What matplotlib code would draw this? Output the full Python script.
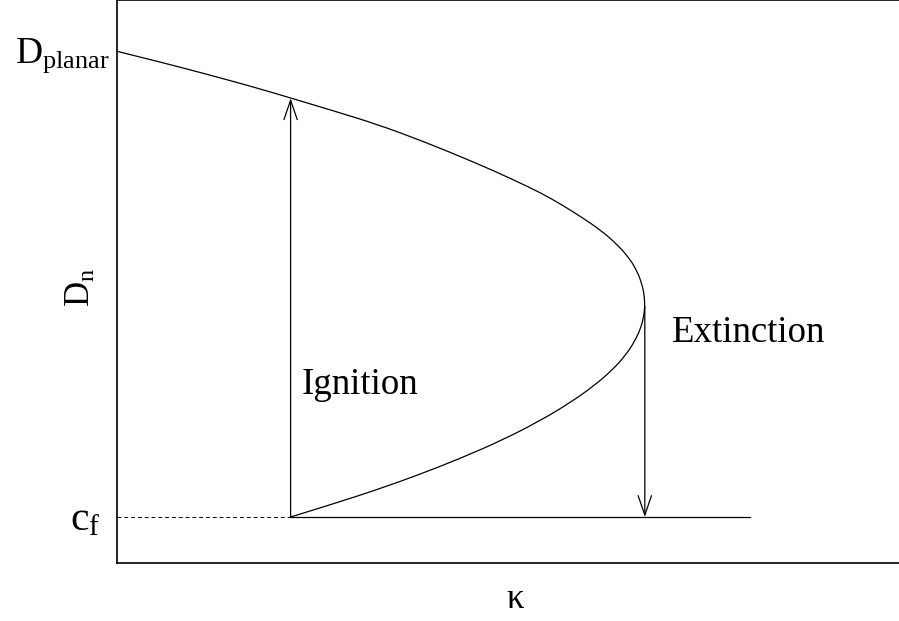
import matplotlib
matplotlib.use("Agg")
import matplotlib.pyplot as plt
import matplotlib.transforms as mtransforms
from matplotlib.patches import FancyArrowPatch, PathPatch
from matplotlib.path import Path

plt.rcParams["font.family"] = ["Liberation Serif", "DejaVu Serif"]
plt.rcParams["mathtext.fontset"] = "custom"
plt.rcParams["mathtext.rm"] = "Liberation Serif"
plt.rcParams["mathtext.it"] = "Liberation Serif:italic"

# S-shaped response curve D_n(kappa): upper (stable) branch then lower branch
kappa_upper = [0.00, 0.44, 0.86, 1.37, 1.74, 2.17, 2.59, 3.05, 3.56, 3.94,
               4.23, 4.44, 4.63, 4.82, 4.97, 5.09, 5.18, 5.235, 5.255, 5.26]
dn_upper = [5.12, 5.01, 4.90, 4.76, 4.65, 4.52, 4.39, 4.22, 4.01, 3.84,
            3.70, 3.58, 3.46, 3.33, 3.20, 3.07, 2.93, 2.78, 2.67, 2.57]
kappa_lower = [5.26, 5.25, 5.22, 5.16, 5.07, 4.935, 4.75, 4.51, 4.21, 3.84,
               3.43, 3.00, 2.58, 2.15, 1.73]
dn_lower = [2.57, 2.47, 2.35, 2.22, 2.08, 1.93, 1.77, 1.60, 1.42, 1.23,
            1.05, 0.88, 0.73, 0.59, 0.46]

d_planar = 5.12
c_f = 0.46
kappa_ignition = 1.73
dn_ignition_top = 4.65
kappa_extinction = 5.26
dn_extinction = 2.57
kappa_end = 6.31
level_labels = [r"$\mathrm{D_{planar}}$", r"$\mathrm{c_f}$"]


def smooth_path(xs, ys):
    """Quadratic B-spline style path: points act as control points,
    midpoints between them lie on the drawn curve."""
    pts = list(zip(xs, ys))
    verts = [pts[0]]
    codes = [Path.MOVETO]
    for i in range(1, len(pts) - 1):
        mid = ((pts[i][0] + pts[i + 1][0]) / 2, (pts[i][1] + pts[i + 1][1]) / 2)
        if i == len(pts) - 2:
            mid = pts[-1]
        verts += [pts[i], mid]
        codes += [Path.CURVE3, Path.CURVE3]
    return Path(verts, codes)


fig = plt.figure(figsize=(8.99, 6.21), dpi=100)
ax = fig.add_axes([117 / 899, 58 / 621, 1.003 - 117 / 899, 0.9995 - 58 / 621])

lw = 0.9
curve_x = kappa_upper + kappa_lower[1:]
curve_y = dn_upper + dn_lower[1:]
ax.add_patch(PathPatch(smooth_path(curve_x, curve_y), facecolor="none",
                       edgecolor="black", lw=lw))
ax.plot([kappa_ignition, kappa_end], [c_f, c_f], color="black", lw=lw)
ax.plot([0, kappa_ignition], [c_f, c_f], color="black", lw=0.7,
        linestyle=(0, (4, 3)))

# Ignition and extinction jumps
style = "->,head_length=0.7,head_width=0.24"
ax.add_patch(FancyArrowPatch((kappa_ignition, c_f),
                             (kappa_ignition, dn_ignition_top),
                             arrowstyle=style, mutation_scale=20,
                             color="black", lw=lw, shrinkA=0, shrinkB=0))
ax.add_patch(FancyArrowPatch((kappa_extinction, dn_extinction),
                             (kappa_extinction, c_f),
                             arrowstyle=style, mutation_scale=20,
                             color="black", lw=lw, shrinkA=0, shrinkB=0))

ax.text(kappa_ignition + 0.11, 1.78, "Ignition", fontsize=26.5,
        va="center", ha="left")
ax.text(5.53, 2.30, "Extinction", fontsize=26.5, va="center", ha="left")

ax.set_xlim(0, 7.82)
ax.set_ylim(0, 5.63)
ax.set_xticks([])
ax.set_yticks([])

# Level labels beside the left axis
trans = mtransforms.blended_transform_factory(ax.transAxes, ax.transData)
ax.text(-0.009, d_planar - 0.04, level_labels[0], fontsize=27, transform=trans,
        ha="right", va="center", clip_on=False)
ax.text(-0.021, c_f - 0.03, level_labels[1], fontsize=30, transform=trans,
        ha="right", va="center", clip_on=False)

ax.set_xlabel("κ", fontsize=25)
ax.xaxis.set_label_coords(0.508, -0.036)
ax.set_ylabel(r"$\mathrm{D_n}$", fontsize=25)
ax.yaxis.set_label_coords(-0.024, 0.49)

for s in ax.spines.values():
    s.set_linewidth(1.2)
ax.spines["right"].set_visible(False)

fig.savefig("out.png", dpi=100)
